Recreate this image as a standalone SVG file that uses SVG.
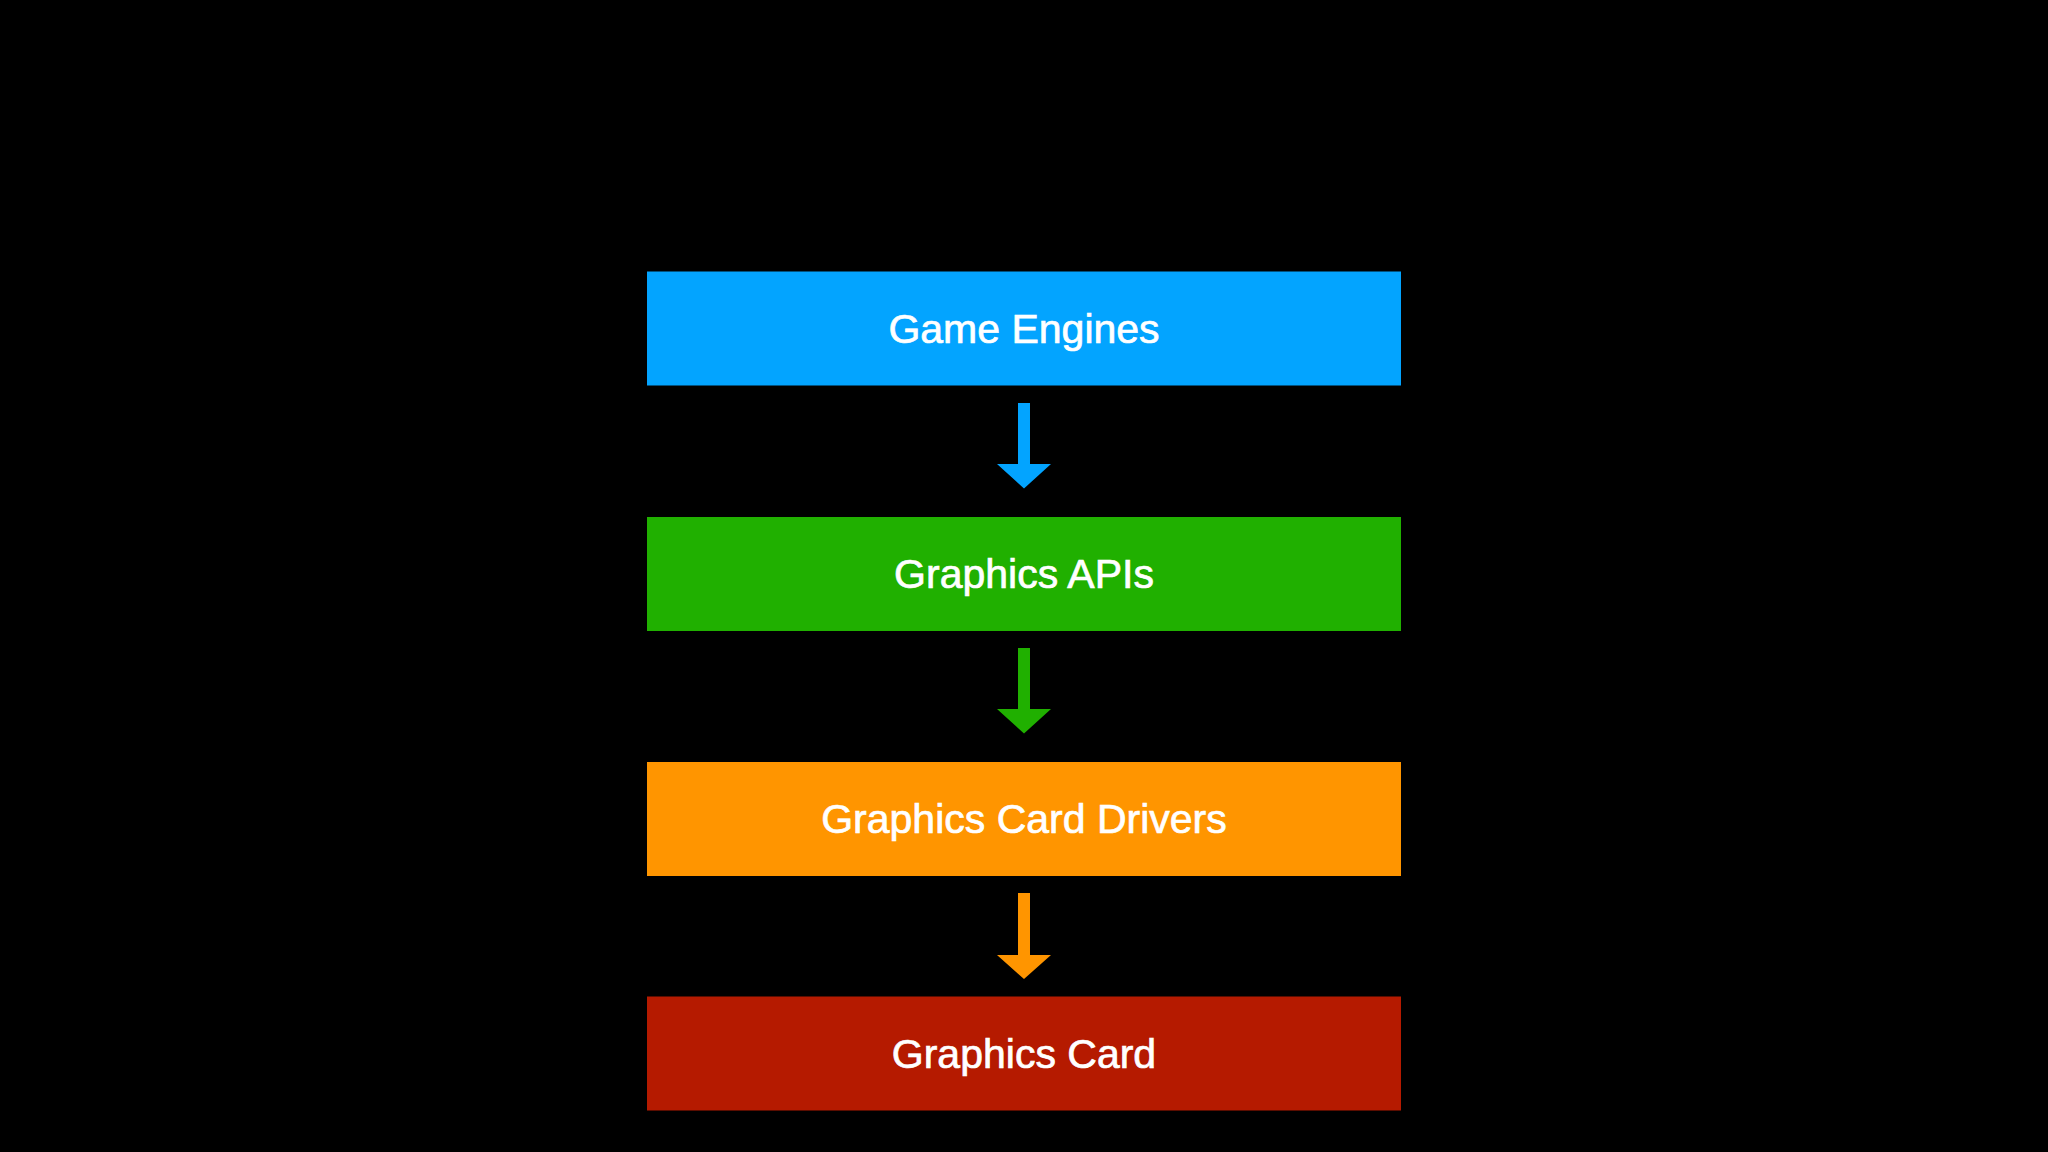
<svg xmlns="http://www.w3.org/2000/svg" width="2048" height="1152" viewBox="0 0 2048 1152">
<style>
.lbl{font-family:"Liberation Sans",Arial,sans-serif;font-size:41px;fill:#ffffff;stroke:#ffffff;stroke-width:0.7px;text-anchor:middle}
.blue{fill:#03A4FF}
.green{fill:#20B000}
.orange{fill:#FF9500}
.red{fill:#B51A00}
</style>
<rect width="2048" height="1152" fill="#000000"/>
<g id="connectors">
<path class="blue" d="M1018,403 H1030 V464 H1051 L1024,488.5 L997,464 H1018 Z"/>
<path class="green" d="M1018,648 H1030 V709 H1051 L1024,733.5 L997,709 H1018 Z"/>
<path class="orange" d="M1018,893 H1030 V955 H1051 L1024,979 L997,955 H1018 Z"/>
</g>
<g id="game-engines">
<rect class="blue" x="647" y="271.5" width="754" height="114"/>
<text class="lbl" x="1024" y="342.7">Game Engines</text>
</g>
<g id="graphics-apis">
<rect class="green" x="647" y="517" width="754" height="114"/>
<text class="lbl" x="1024" y="588.3">Graphics APIs</text>
</g>
<g id="graphics-card-drivers">
<rect class="orange" x="647" y="762" width="754" height="114"/>
<text class="lbl" x="1024" y="833.3">Graphics Card Drivers</text>
</g>
<g id="graphics-card">
<rect class="red" x="647" y="996.5" width="754" height="114"/>
<text class="lbl" x="1024" y="1068.3">Graphics Card</text>
</g>
</svg>
